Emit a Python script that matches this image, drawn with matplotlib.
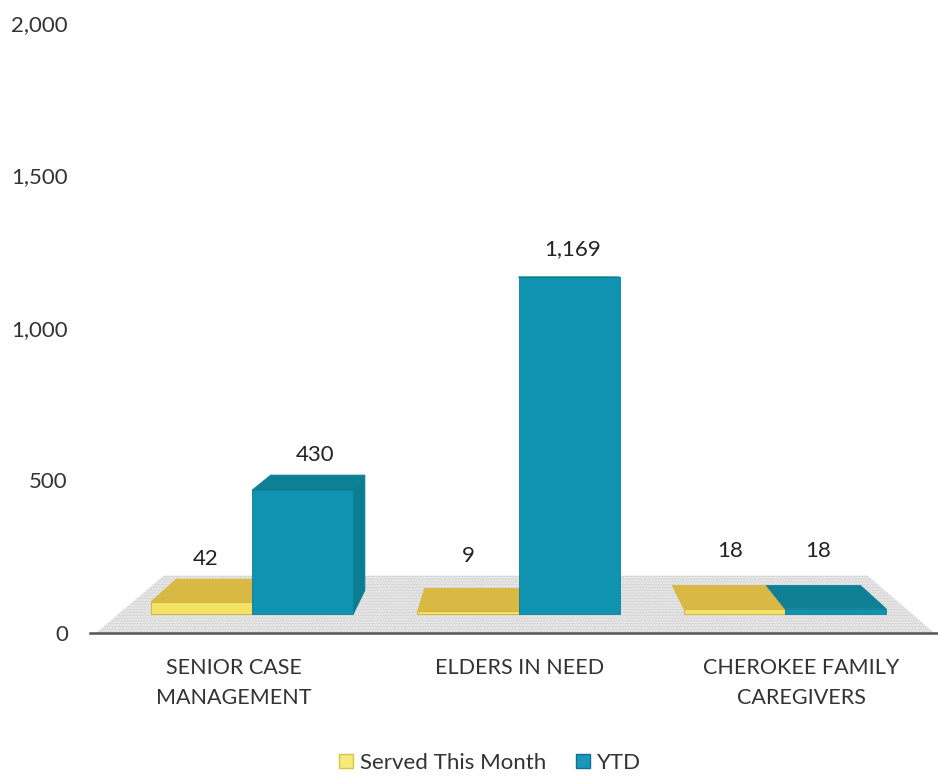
import matplotlib
matplotlib.use("Agg")
import matplotlib.pyplot as plt
from matplotlib.patches import Polygon, Patch

plt.rcParams['font.family'] = ['Lato', 'DejaVu Sans']

# data
categories = ["SENIOR CASE\nMANAGEMENT", "ELDERS IN NEED", "CHEROKEE FAMILY\nCAREGIVERS"]
served = [42, 9, 18]
ytd = [430, 1169, 18]
y_ticks = [0, 500, 1000, 1500, 2000]

# 3d look of the original: everything runs to one vanishing point
VX, HY = 1.0, 1174      # vanishing point, data units
DEPTH = 0.07            # bar depth
FLOOR_DEPTH = 0.16
BASE = 62               # front edge of bars above the axis
SCALE = 0.945           # front faces are a bit shorter than the axis scale
BAR_W = 0.38


def back(x, y, d=DEPTH):
    return x + d * (VX - x), y + d * (HY - y)


def draw_bar(ax, x0, value, front, top, side):
    x1 = x0 + BAR_W
    y0 = BASE
    y1 = BASE + value * SCALE
    bl, br = back(x0, y1), back(x1, y1)
    # right side only shows left of the vanishing point
    if x1 < VX:
        ax.add_patch(Polygon([(x1, y0), (x1, y1), br, back(x1, y0)], fc=side, ec=side, lw=0.6, zorder=3))
    ax.add_patch(Polygon([(x0, y1), (x1, y1), br, bl], fc=top, ec=top, lw=0.6, zorder=3))
    ax.add_patch(Polygon([(x0, y0), (x1, y0), (x1, y1), (x0, y1)], fc=front, ec=side, lw=0.6, zorder=3))
    return (bl[0] + br[0]) / 2, bl[1]


fig = plt.figure(figsize=(9.38, 7.78), dpi=100)
ax = fig.add_axes([90 / 938, 1 - 633 / 778, 848 / 938, 610 / 778])
ax.set_xlim(-0.608, 2.574)
ax.set_ylim(0, 2000)

# floor
fl, fr = -0.585, 2.56
floor = Polygon([(fl, 0), (fr, 0), back(fr, 0, FLOOR_DEPTH), back(fl, 0, FLOOR_DEPTH)],
                fc="#d6d6d6", ec="#f4f4f4", hatch="......", lw=0, zorder=1)
ax.add_patch(floor)

label_off = [(-13, 7), (-2, 7), (-2, 15.5), (5, 13), (8, 18), (3.5, 18)]
for i in range(len(categories)):
    p1 = draw_bar(ax, i - BAR_W, served[i], "#f3e264", "#d9b944", "#cfae3c")
    p2 = draw_bar(ax, i, ytd[i], "#0f93b1", "#0f7f95", "#0b7d92")
    for p, v, off in zip((p1, p2), (served[i], ytd[i]), label_off[2 * i:2 * i + 2]):
        ax.annotate(f"{v:,}", p, xytext=off, textcoords="offset points", ha="center",
                    va="bottom", fontsize=16, color="#222222", zorder=5)

for s in ("top", "left", "right"):
    ax.spines[s].set_visible(False)
ax.spines["bottom"].set_color("#555555")
ax.spines["bottom"].set_linewidth(1.8)
ax.spines["bottom"].set_zorder(4)

ax.set_yticks(y_ticks)
ax.set_yticklabels([f"{t:,}" for t in y_ticks], fontsize=16, color="#333333")
ax.tick_params(axis="y", length=0, pad=16)
ax.set_xticks([-0.068, 1.004, 2.06])
ax.set_xticklabels(categories, fontsize=15.5, color="#333333", linespacing=1.65)
ax.tick_params(axis="x", length=0, pad=18)

handles = [Patch(fc="#f7ea7c", ec="#d9c43c", label="Served This Month"),
           Patch(fc="#1b96bd", ec="#146f8c", label="YTD")]
fig.legend(handles=handles, ncol=2, frameon=False, loc="center", bbox_to_anchor=(490 / 938, 1 - 763 / 778),
           fontsize=16, labelcolor="#333333", handlelength=0.63, handleheight=0.63, handletextpad=0.35, columnspacing=1.3)

fig.savefig("out.png", dpi=100)
